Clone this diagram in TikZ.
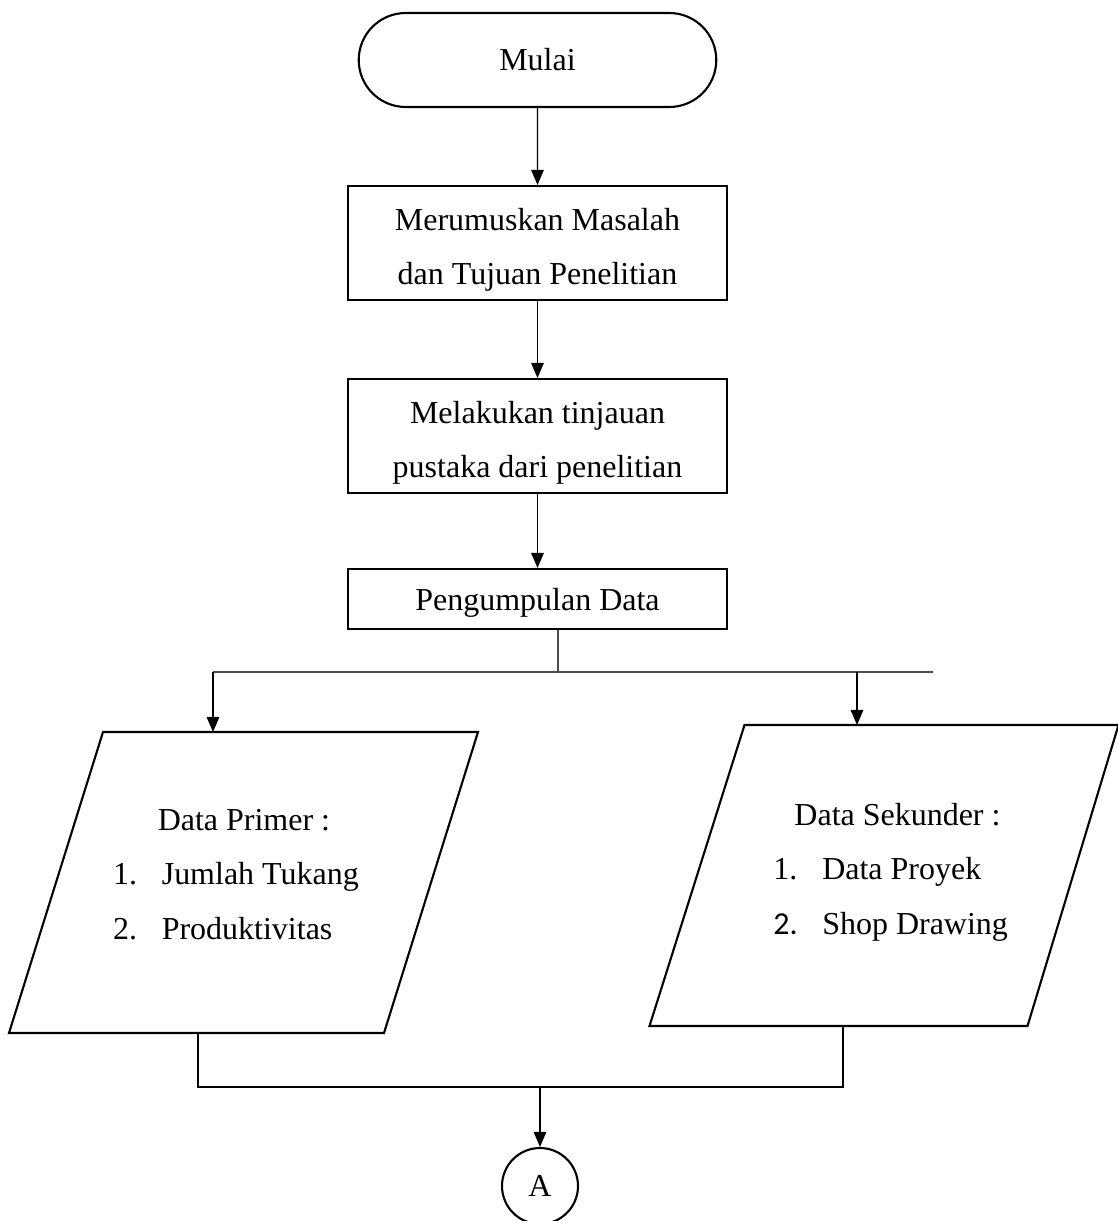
\documentclass[tikz,border=0pt]{standalone}
\usepackage{fontspec}
\setmainfont{Liberation Serif}
\newfontfamily\angkafont{Carlito}
\usetikzlibrary{shapes.misc, arrows.meta}
\tikzset{
    every node/.style={font=\fontsize{9.1}{15.6}\selectfont, align=center}
}
\tikzset{
    proses/.style={rectangle, draw, line width=0.6pt, minimum width=3.79cm},
    terminal/.style={rounded rectangle, draw, line width=0.6pt,
    	minimum width=3.81cm, minimum height=0.94cm},
    databox/.style={rectangle, minimum width=4.69cm, minimum height=3.01cm,
    	inner sep=0pt, outer sep=0pt},
    bingkai/.style={line width=0.6pt, line join=miter},
    konektor/.style={circle, draw, line width=0.6pt, minimum size=0.76cm,
    	inner sep=0pt},
    panah/.style={-{Triangle[length=4.3pt, width=3.6pt]}, line width=0.35pt},
    garis/.style={line width=0.35pt},
    cabanggaris/.style={line width=0.4pt, draw=black!70}
}

\begin{document}
\begin{tikzpicture}
  \useasboundingbox (0cm, 0cm) rectangle (11.18cm, -12.21cm);

  \node (mulai) [terminal] at (5.375cm, -0.60cm) {Mulai};
  \node (rumus) [proses, minimum height=1.14cm, inner ysep=0pt,
  	text height=25.8pt] at (5.375cm, -2.43cm)
  	{Merumuskan Masalah\\dan Tujuan Penelitian};
  \node (tinjau) [proses, minimum height=1.14cm, inner ysep=0pt,
  	text height=25.8pt] at (5.375cm, -4.36cm)
  	{Melakukan tinjauan\\pustaka dari penelitian};
  \node (kumpul) [proses, minimum height=0.60cm, text height=8.3pt]
  	at (5.375cm, -5.99cm) {Pengumpulan Data};

  \node (primer) [databox] at (2.435cm, -8.825cm) {};
  \node (sekunder) [databox] at (8.84cm, -8.755cm) {};
  \draw [bingkai] ([xshift=9.4mm]primer.north west) -- (primer.north east)
  	-- ([xshift=-9.4mm]primer.south east) -- (primer.south west) -- cycle;
  \draw [bingkai] ([xshift=9.5mm]sekunder.north west) -- (sekunder.north east)
  	-- ([xshift=-9.1mm]sekunder.south east) -- (sekunder.south west) -- cycle;
  \node (tprimer) at (2.36cm, -8.74cm) {%
  	\begin{tabular}{@{}l@{\hspace{7pt}}l@{}}
  	\multicolumn{2}{c}{\hspace{4.5pt}Data Primer :}\\
  	1. & Jumlah Tukang\\
  	2. & Produktivitas
  	\end{tabular}};
  \node (tsekunder) at (8.975cm, -8.69cm) {%
  	\begin{tabular}{@{}l@{\hspace{7pt}}l@{}}
  	\multicolumn{2}{c}{Data Sekunder :}\\
  	1. & Data Proyek\\
  	{\angkafont 2.} & Shop Drawing
  	\end{tabular}};

  \node (conA) [konektor] at (5.40cm, -11.86cm) {A};

  \coordinate (cabang) at (5.58cm, -6.72cm);
  \coordinate (kiri) at (2.13cm, -6.72cm);
  \coordinate (kanan) at (9.33cm, -6.72cm);
  \coordinate (turun) at (8.57cm, -6.72cm);
  \coordinate (bkiri) at (1.98cm, -10.87cm);
  \coordinate (bkanan) at (8.43cm, -10.87cm);
  \coordinate (gabung) at (5.40cm, -10.87cm);

  \draw [panah] (mulai) -- (rumus);
  \draw [panah] (rumus) -- (tinjau);
  \draw [panah] (tinjau) -- (kumpul);
  \draw [cabanggaris] (kumpul.south -| cabang) -- (cabang);
  \draw [cabanggaris] (kiri) -- (kanan);
  \draw [panah] (kiri) -- (kiri |- primer.north);
  \draw [panah] (turun) -- (turun |- sekunder.north);
  \draw [garis] (bkiri |- primer.south) -- (bkiri) -- (bkanan)
  	-- (bkanan |- sekunder.south);
  \draw [panah] (gabung) -- (conA);
\end{tikzpicture}
\end{document}
